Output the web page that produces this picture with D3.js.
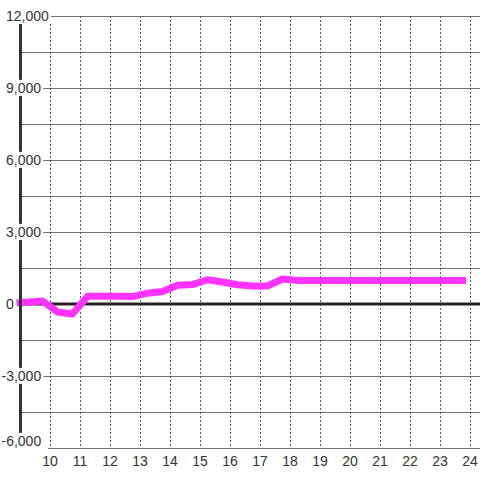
<!DOCTYPE html>
<html><head><meta charset="utf-8">
<script src="https://cdn.jsdelivr.net/npm/d3@7"></script>
<style>body{margin:0;background:#fff}svg{display:block}</style>
</head><body>
<svg id="c" width="480" height="480"></svg>
<script>
const hours = [9.0, 9.75, 10.25, 10.75, 11.25, 11.75, 12.25, 12.75, 13.25, 13.75, 14.25, 14.75, 15.25, 15.75, 16.25, 16.75, 17.25, 17.75, 18.25, 18.75, 19.25, 19.75, 20.25, 20.75, 21.25, 21.75, 22.25, 22.75, 23.25, 23.75];
const values = [50, 125, -330, -420, 320, 320, 320, 310, 450, 520, 780, 810, 1010, 917, 804, 750, 750, 1040, 980, 980, 980, 980, 980, 980, 980, 980, 980, 980, 980, 980];
const xTicks = [10, 11, 12, 13, 14, 15, 16, 17, 18, 19, 20, 21, 22, 23, 24];
const yTicks = [-6000, -3000, 0, 3000, 6000, 9000, 12000];
const yGrid = [-6000, -4500, -3000, -1500, 0, 1500, 3000, 4500, 6000, 7500, 9000, 10500, 12000];

const svg = d3.select("#c");
const x = d3.scaleLinear().domain([9, 24.3333]).range([20, 480]);
const y = d3.scaleLinear().domain([-6000, 12000]).range([448, 16]);
const fmt = d3.formatLocale({decimal: ".", thousands: ",", grouping: [3], currency: ["", ""], minus: "-"}).format(",");

// horizontal grid
svg.append("g").selectAll("line").data(yGrid).join("line")
  .attr("x1", d => d === -6000 ? 48 : 20).attr("x2", 480)
  .attr("y1", d => y(d) + 0.5).attr("y2", d => y(d) + 0.5)
  .attr("stroke", "#6e6e6e").attr("stroke-width", 1);

// vertical dashed grid
svg.append("g").selectAll("line").data(xTicks).join("line")
  .attr("x1", d => Math.round(x(d)) + 0.5).attr("x2", d => Math.round(x(d)) + 0.5)
  .attr("y1", 16).attr("y2", 448)
  .attr("stroke", "#555").attr("stroke-width", 1).attr("stroke-dasharray", "2,2");

// zero line
svg.append("line").attr("x1", 20).attr("x2", 480)
  .attr("y1", y(0)).attr("y2", y(0))
  .attr("stroke", "#222").attr("stroke-width", 3);

// data line
svg.append("path").datum(hours.map((h, i) => [h, values[i]]))
  .attr("fill", "none").attr("stroke", "#ff33ff").attr("stroke-width", 7)
  .attr("stroke-linecap", "square").attr("stroke-linejoin", "round")
  .attr("d", d3.line().x(d => x(d[0])).y(d => y(d[1])));

// y axis
svg.append("line").attr("x1", 20.5).attr("x2", 20.5).attr("y1", 16).attr("y2", 448)
  .attr("stroke", "#333").attr("stroke-width", 3);

// y labels with white background (bottom label kept inside the view)
const yl = svg.append("g").selectAll("g").data(yTicks).join("g");
yl.append("text")
  .attr("x", d => d < 0 ? 1.5 : 6).attr("y", d => Math.min(y(d), 441)).attr("dy", "0.35em")
  .attr("font-family", "Liberation Sans, Arial, sans-serif").attr("font-size", 14)
  .attr("fill", "#333").text(d => fmt(d))
  .each(function() {
    const b = this.getBBox();
    d3.select(this.parentNode).insert("rect", "text")
      .attr("x", b.x - 1).attr("y", b.y).attr("width", b.width + 3).attr("height", b.height)
      .attr("fill", "#fff");
  });

// x labels
svg.append("g").selectAll("text").data(xTicks).join("text")
  .attr("x", d => x(d)).attr("y", 461).attr("dy", "0.35em")
  .attr("text-anchor", "middle")
  .attr("font-family", "Liberation Sans, Arial, sans-serif").attr("font-size", 14)
  .attr("fill", "#333").text(d => d);
</script>
</body></html>
